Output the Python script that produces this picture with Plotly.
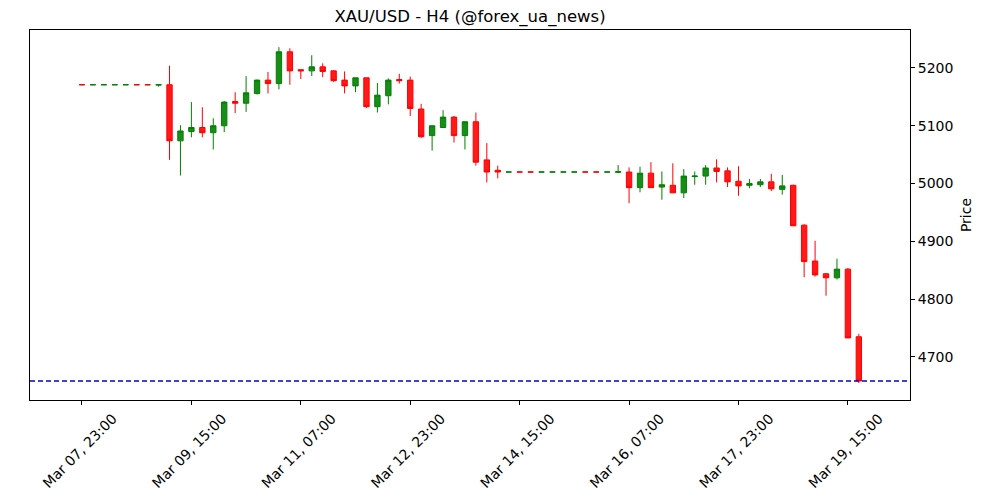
import pandas as pd
import plotly.graph_objects as go

# XAU/USD H4 candles
times = pd.date_range("2026-03-07 23:00", periods=72, freq="4h")

open_ = [5171.02, 5171.00, 5171.00, 5171.00, 5171.00, 5171.02, 5171.02, 5170.50,
         5171, 5074, 5090, 5097, 5088, 5100, 5142, 5139, 5156, 5179,
         5173, 5228, 5197, 5195, 5202, 5195, 5179, 5169, 5183, 5133,
         5152, 5180, 5179, 5129, 5083, 5097, 5115, 5083, 5107, 5041, 5023,
         5020.00, 5020.02, 5020.02, 5020.00, 5020.00, 5020.00, 5020.00, 5020.02, 5020.02, 5020.00,
         5019.5, 5020, 4993, 5018, 4994, 4997, 4984, 5012, 5013, 5027,
         5022, 5004, 4997, 4998, 5003, 4990, 4997, 4928, 4866, 4844,
         4837, 4852, 4735]
high = [5171.02, 5171.02, 5171.02, 5171.02, 5171.02, 5171.02, 5171.02, 5171.00,
        5204, 5101, 5141, 5132, 5113, 5143, 5158, 5186, 5180, 5193,
        5236, 5234, 5198, 5222, 5208, 5196, 5194, 5183, 5183, 5174,
        5182, 5190, 5185, 5138, 5100, 5127, 5117, 5107, 5123, 5070, 5031,
        5020.02, 5020.02, 5020.02, 5020.02, 5020.02, 5020.02, 5020.02, 5020.02, 5020.02, 5020.02,
        5032, 5028, 5029, 5037, 5021, 5035, 5025, 5021, 5032, 5042,
        5028, 5030, 5008, 5008, 5017, 5015, 4998, 4930, 4901, 4845,
        4870, 4854, 4740]
low = [5171.00, 5171.00, 5171.00, 5171.00, 5171.00, 5171.00, 5171.00, 5167.5,
       5041, 5014, 5080, 5080, 5059, 5089, 5122, 5124, 5154, 5156,
       5163, 5171, 5181, 5186, 5184, 5176, 5156, 5158, 5131, 5123,
       5137, 5173, 5117, 5079, 5057, 5097, 5071, 5059, 5031, 5002, 5009,
       5020.00, 5020.00, 5020.00, 5020.00, 5020.00, 5020.00, 5020.00, 5020.00, 5020.00, 5020.00,
       5018, 4966, 4985, 4993, 4972, 4984, 4975, 4998, 4998, 5002,
       4994, 4979, 4992, 4994, 4987, 4981, 4927, 4838, 4839, 4806,
       4834, 4733, 4655]
close = [5171.00, 5171.02, 5171.02, 5171.02, 5171.02, 5171.00, 5171.00, 5171.00,
         5074, 5091, 5097, 5088, 5100, 5141, 5139, 5157, 5179, 5173,
         5228, 5195, 5195, 5202, 5194, 5178, 5169, 5183, 5133, 5153,
         5179, 5178, 5130, 5081, 5100, 5115, 5083, 5107, 5037, 5020, 5020,
         5020.02, 5020.00, 5020.00, 5020.02, 5020.02, 5020.02, 5020.02, 5020.00, 5020.00, 5020.02,
         5020.5, 4993, 5018, 4993, 4998, 4984, 5013, 5013, 5027, 5021,
         5003, 4996, 5000, 5003, 4991, 4996, 4927, 4865, 4842, 4837,
         4852, 4733, 4658.5]

fig = go.Figure()
fig.add_trace(go.Candlestick(
    x=times, open=open_, high=high, low=low, close=close,
    increasing=dict(line=dict(color="green", width=1), fillcolor="rgba(0,128,0,0.9)"),
    decreasing=dict(line=dict(color="red", width=1), fillcolor="rgba(255,0,0,0.9)"),
    whiskerwidth=0, showlegend=False, name="XAU/USD"))

# last close line
fig.add_hline(y=close[-1], line=dict(color="#0000dd", width=1.3, dash="5px,3px"))

# page body has an 8px margin, so margins are shifted to compensate
fnt = "DejaVu Sans"
fig.update_layout(
    width=1000, height=500,
    margin=dict(l=22, r=98, t=22, b=108),
    paper_bgcolor="white", plot_bgcolor="white",
    font=dict(family=fnt, size=14, color="black"),
    title=dict(text="XAU/USD - H4 (@forex_ua_news)", xref="paper", x=0.5, xanchor="center",
               y=0.984, yanchor="middle", font=dict(size=16.5)),
    xaxis=dict(type="date", rangeslider=dict(visible=False), automargin=False,
               range=["2026-03-07 04:00", "2026-03-20 13:42"],
               tick0="2026-03-07 23:00", dtick=40 * 3600 * 1000,
               tickformat="%b %d, %H:%M", tickangle=-45, ticklabelshift=31,
               tickfont=dict(size=14),
               showgrid=False, zeroline=False,
               showline=True, linecolor="black", linewidth=1, mirror=True,
               ticks="outside", ticklen=4, tickcolor="black"),
    yaxis=dict(side="right", range=[4625.6, 5265.7], dtick=100, automargin=False,
               tickfont=dict(size=14),
               showgrid=False, zeroline=False,
               showline=True, linecolor="black", linewidth=1, mirror=True,
               ticks="outside", ticklen=4, tickcolor="black",
               title=dict(text="Price", standoff=8, font=dict(size=14))),
)

fig.write_html("out.html")
